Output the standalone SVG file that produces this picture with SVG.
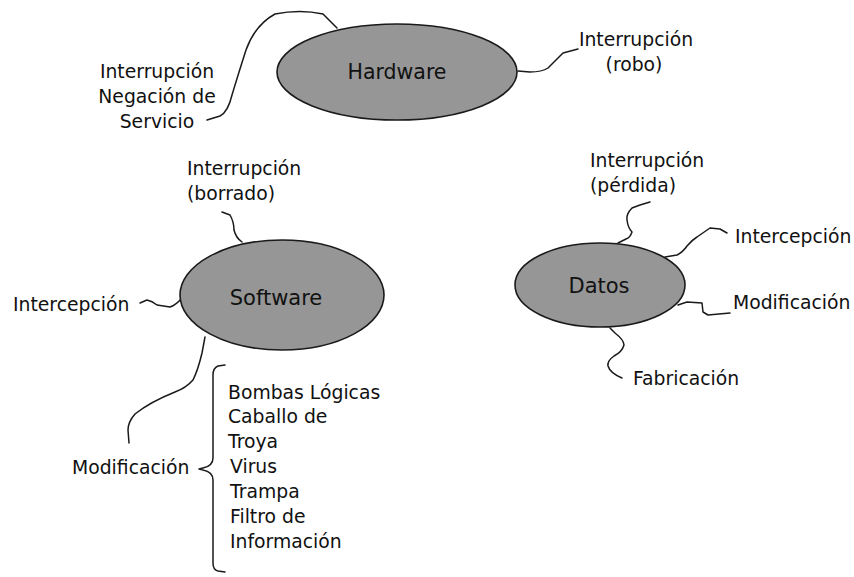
<svg xmlns="http://www.w3.org/2000/svg" width="854" height="577" viewBox="0 0 854 577">
  <style>
    .node { fill: #969696; stroke: #1a1a1a; stroke-width: 1.6; }
    .wire { fill: none; stroke: #1a1a1a; stroke-width: 1.5; stroke-linejoin: round; stroke-linecap: round; }
    text { font-family: "DejaVu Sans", Verdana, sans-serif; font-size: 18.8px; fill: #111; }
    .mid { text-anchor: middle; }
    .title { font-size: 21px; }
  </style>
  <rect width="854" height="577" fill="#ffffff"/>

  <!-- connectors: wavy lines from each asset to its threat labels -->
  <g id="connectors">
    <!-- Hardware -->
    <path class="wire" d="M337,28 L323,14 Q300,9 275,14 Q255,25 246,50 Q238,75 232,95 Q228,112 220,116 L207,120"/>
    <path class="wire" d="M518,71 L530,72 Q542,72 548,68 Q556,60 563,53 L578,49"/>
    <!-- Software -->
    <path class="wire" d="M222,212 L230,215 Q234,222 234,230 Q236,238 242,242"/>
    <path class="wire" d="M140,303 L147,300 Q152,301 157,305 L170,307 Q176,305 182,298"/>
    <path class="wire" d="M205,337 L202,353 Q198,370 193,380 Q186,388 175,392 Q150,402 135,414 Q128,422 128,430 L129,443"/>
    <!-- brace grouping the modification threats -->
    <path class="wire" d="M225,365 L218,366 Q213,368 213,375 L213,458 Q213,466 203,468 L199,469 L203,470 Q213,472 213,480 L213,563 Q213,570 218,571 L225,572"/>
    <!-- Datos -->
    <path class="wire" d="M650,202 L640,205 L632,208 Q626,214 627,220 Q628,228 632,232 Q630,238 626,239 L618,243"/>
    <path class="wire" d="M665,257 L677,255 Q683,252 687,246 Q692,240 697,237 L710,228 L720,229 L727,233"/>
    <path class="wire" d="M678,305 L687,302 L702,303 L703,312 L708,315 L730,313"/>
    <path class="wire" d="M610,328 L615,333 Q624,340 624,345 Q622,352 614,356 Q607,361 608,366 Q610,373 622,378"/>
  </g>

  <g id="hardware">
    <ellipse class="node" cx="397" cy="72" rx="120" ry="48"/>
    <text class="mid title" x="397" y="79" style="font-size:20.5px">Hardware</text>
  </g>
  <g id="hardware-interrupcion-negacion">
    <text class="mid" x="157" y="78">Interrupción</text>
    <text class="mid" x="157" y="103">Negación de</text>
    <text class="mid" x="157" y="128">Servicio</text>
  </g>
  <g id="hardware-interrupcion-robo">
    <text class="mid" x="636" y="46">Interrupción</text>
    <text class="mid" x="634" y="71">(robo)</text>
  </g>

  <g id="software">
    <ellipse class="node" cx="282" cy="295" rx="102" ry="55"/>
    <text class="mid title" x="276" y="305">Software</text>
  </g>
  <g id="software-interrupcion">
    <text x="187" y="175">Interrupción</text>
    <text x="187" y="200">(borrado)</text>
  </g>
  <g id="software-intercepcion">
    <text x="13" y="311">Intercepción</text>
  </g>
  <g id="software-modificacion">
    <text x="72" y="474">Modificación</text>
  </g>
  <g id="software-modificacion-tipos">
    <text x="228" y="399">Bombas Lógicas</text>
    <text x="228" y="423">Caballo de</text>
    <text x="228" y="448">Troya</text>
    <text x="230" y="473">Virus</text>
    <text x="230" y="498">Trampa</text>
    <text x="230" y="523">Filtro de</text>
    <text x="230" y="548">Información</text>
  </g>

  <g id="datos">
    <ellipse class="node" cx="600" cy="285" rx="85" ry="42"/>
    <text class="mid title" x="599" y="293">Datos</text>
  </g>
  <g id="datos-interrupcion">
    <text x="590" y="167">Interrupción</text>
    <text x="590" y="192">(pérdida)</text>
  </g>
  <g id="datos-intercepcion">
    <text x="735" y="243">Intercepción</text>
  </g>
  <g id="datos-modificacion">
    <text x="733" y="309">Modificación</text>
  </g>
  <g id="datos-fabricacion">
    <text x="633" y="385">Fabricación</text>
  </g>
</svg>
